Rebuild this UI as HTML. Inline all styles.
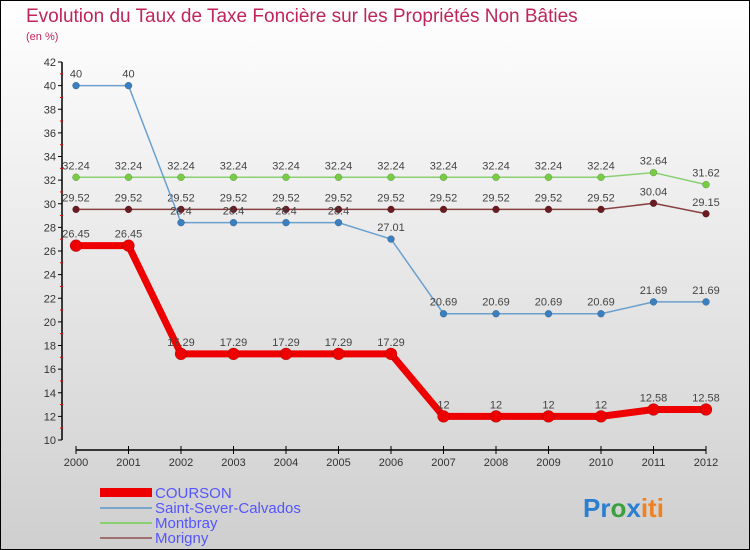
<!DOCTYPE html>
<html><head><meta charset="utf-8"><style>
body{margin:0}
svg{display:block;font-family:"Liberation Sans",sans-serif}
</style></head><body>
<svg id="c" width="750" height="550" viewBox="0 0 750 550">
<defs><linearGradient id="bg" x1="0" y1="0" x2="0" y2="1"><stop offset="0" stop-color="#ffffff"/><stop offset="1" stop-color="#cfcfcf"/></linearGradient></defs>
<rect x="0.5" y="0.5" width="749" height="549" fill="url(#bg)" stroke="#000"/>
<text x="26" y="22" font-size="19" fill="#c0245a">Evolution du Taux de Taxe Foncière sur les Propriétés Non Bâties</text>
<text x="26" y="40" font-size="11" fill="#c0245a">(en %)</text>
<g id="axes"></g><g id="series"></g>
<g>
<rect x="100" y="488" width="52" height="9" fill="#e00"/>
<text x="155" y="498" font-size="15" fill="#5555ff">COURSON</text>
<line x1="100" y1="508" x2="152" y2="508" stroke="#7aa6cc" stroke-width="2"/>
<text x="155" y="513" font-size="15" fill="#5555ff">Saint-Sever-Calvados</text>
<line x1="100" y1="523" x2="152" y2="523" stroke="#88d070" stroke-width="2"/>
<text x="155" y="528" font-size="15" fill="#5555ff">Montbray</text>
<line x1="100" y1="538" x2="152" y2="538" stroke="#a07070" stroke-width="2"/>
<text x="155" y="543" font-size="15" fill="#5555ff">Morigny</text>
</g>
<text x="583" y="517" font-size="26" font-weight="bold"><tspan fill="#2a7fd0">Pr</tspan><tspan fill="#3aa040">o</tspan><tspan fill="#2a7fd0">x</tspan><tspan fill="#f08020">iti</tspan></text>
</svg>
<script>
const years=[2000,2001,2002,2003,2004,2005,2006,2007,2008,2009,2010,2011,2012];
const yTicks=[10,12,14,16,18,20,22,24,26,28,30,32,34,36,38,40,42];
const courson=[26.45,26.45,17.29,17.29,17.29,17.29,17.29,12,12,12,12,12.58,12.58];
const saintSever=[40,40,28.4,28.4,28.4,28.4,27.01,20.69,20.69,20.69,20.69,21.69,21.69];
const montbray=[32.24,32.24,32.24,32.24,32.24,32.24,32.24,32.24,32.24,32.24,32.24,32.64,31.62];
const morigny=[29.52,29.52,29.52,29.52,29.52,29.52,29.52,29.52,29.52,29.52,29.52,30.04,29.15];
const NS="http://www.w3.org/2000/svg";
const X=i=>76+i*(630/(years.length-1));
const Y=v=>440-(v-10)*(378/32);
function mk(t,a,p){const e=document.createElementNS(NS,t);for(const k in a)e.setAttribute(k,a[k]);p.appendChild(e);return e;}
const ax=document.getElementById('axes');
const ya=mk('line',{x1:62,y1:Y(42),x2:62,y2:Y(10),stroke:'#000','stroke-width':1.5},ax);


yTicks.forEach(v=>{
 mk('line',{x1:58,y1:Y(v),x2:62,y2:Y(v),stroke:'#000'},ax);
 mk('line',{x1:60,y1:Y(v+1),x2:63,y2:Y(v+1),stroke:v<42?'#e00':'none'},ax);
 const t=mk('text',{x:56,y:Y(v)+4,'font-size':11,fill:'#333','text-anchor':'end'},ax);t.textContent=v;
 
 
});
const xa=mk('line',{x1:X(0),y1:450,x2:X(years.length-1),y2:450,stroke:'#000','stroke-width':1.5},ax);


years.forEach((y,i)=>{
 mk('line',{x1:X(i),y1:446,x2:X(i),y2:454,stroke:'#000'},ax);
 const t=mk('text',{x:X(i),y:466,'font-size':11,fill:'#333','text-anchor':'middle'},ax);t.textContent=y;
 
 
});
const sg=document.getElementById('series');
function series(vals,name,col,w,r,dot){
 const g=mk('g',{},sg);
 
 
 const pl=mk('polyline',{points:vals.map((v,i)=>X(i)+','+Y(v)).join(' '),fill:'none',stroke:col,'stroke-width':w,'stroke-linejoin':'round'},g);
 
 
 vals.forEach((v,i)=>{
  const c=mk('circle',{cx:X(i),cy:Y(v),r:r,fill:dot,stroke:'rgba(0,0,0,0.3)','stroke-width':0.5},g);
  
  
  const t=mk('text',{x:X(i),y:Y(v)-8,'font-size':11,fill:'#444','text-anchor':'middle'},g);t.textContent=v;
  
  
 });
}
series(montbray,'montbray','#88d070',1.5,3.5,'#77cc44');
series(morigny,'morigny','#8a4040',1.5,3.5,'#6a1a20');
series(saintSever,'saint-sever','#6aa0d0',1.5,3.5,'#3a80c0');
series(courson,'courson','#ee0000',7,6,'#ee0000');
</script>
</body></html>
